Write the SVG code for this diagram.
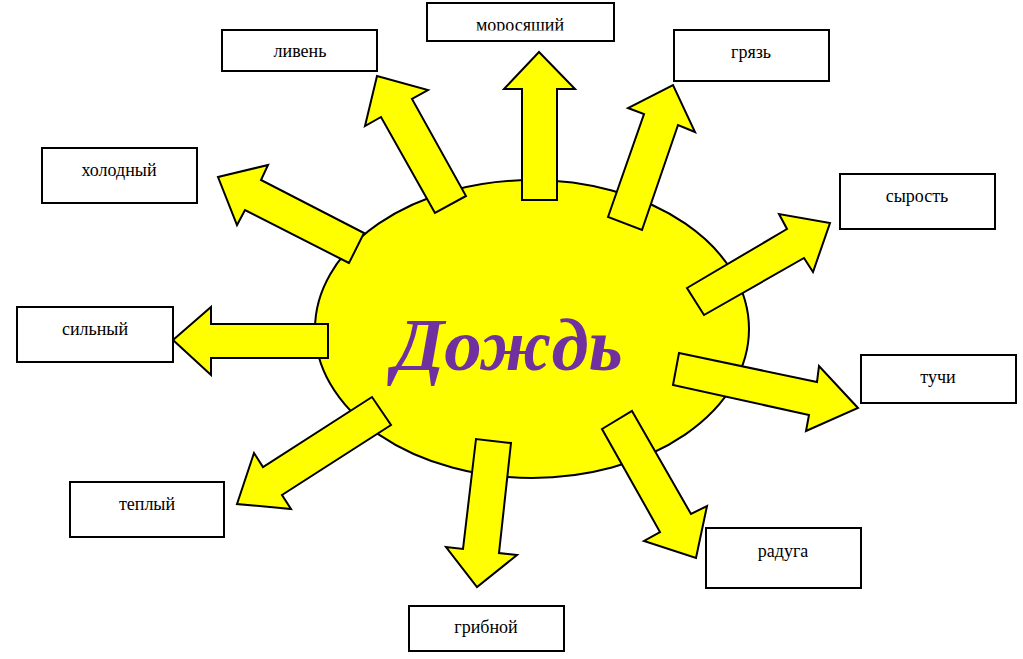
<svg xmlns="http://www.w3.org/2000/svg" width="1023" height="659" viewBox="0 0 1023 659">
<style>
.box{fill:#fff;stroke:#000;stroke-width:2}
.lbl{font-family:"Liberation Serif","DejaVu Serif",serif;font-size:18px;fill:#000;text-anchor:middle}
.arr{fill:#ffff00;stroke:#000;stroke-width:2;stroke-linejoin:miter}
</style>
<defs>
<clipPath id="clipTop"><rect x="427" y="0" width="188" height="30.5"/></clipPath>
</defs>
<rect width="1023" height="659" fill="#fff"/>
<g id="center">
<ellipse cx="532" cy="329" rx="217" ry="149" fill="#ffff00" stroke="#000" stroke-width="2"/>
</g>
<g id="connectors">
<polygon class="arr" points="522,200 522,89 504,89 539,52 575,89 557,89 557,200"/>
<polygon class="arr" points="435,213 381,117 365,126 377,76 428,90 412,99 466,196"/>
<polygon class="arr" points="349,263 245,210 237,225 218,177 268,165 261,180 364,233"/>
<polygon class="arr" points="328,358 211,358 211,375 173,340 211,307 211,324 328,324"/>
<polygon class="arr" points="372,397 263,467 254,453 237,504 291,509 282,495 391,425"/>
<polygon class="arr" points="476,439 463,549 446,547 477,587 517,555 499,553 511,443"/>
<polygon class="arr" points="632,411 691,514 707,506 696,558 644,541 660,532 602,429"/>
<polygon class="arr" points="679,353 817,382 819,366 858,408 806,431 809,415 673,385"/>
<polygon class="arr" points="687,288 787,229 779,214 830,223 813,272 804,258 704,315"/>
<polygon class="arr" points="608,217 644,114 628,108 673,85 695,132 678,125 642,230"/>
</g>
<g id="title">
<text x="508" y="370" font-family="Liberation Serif,'DejaVu Serif',serif" font-size="75" font-weight="bold" font-style="italic" fill="#7030a0" text-anchor="middle">Дождь</text>
</g>
<g id="n-moros"><rect class="box" x="427" y="3" width="187" height="38"/><text class="lbl" x="520" y="31" clip-path="url(#clipTop)">моросящий</text></g>
<g id="n-liven"><rect class="box" x="222" y="30" width="155" height="41"/><text class="lbl" x="300" y="57">ливень</text></g>
<g id="n-gryaz"><rect class="box" x="674" y="30" width="155" height="51"/><text class="lbl" x="751" y="58">грязь</text></g>
<g id="n-syrost"><rect class="box" x="840" y="174" width="155" height="55"/><text class="lbl" x="917" y="202">сырость</text></g>
<g id="n-holod"><rect class="box" x="42" y="148" width="155" height="55"/><text class="lbl" x="119" y="176">холодный</text></g>
<g id="n-silny"><rect class="box" x="17" y="307" width="156" height="55"/><text class="lbl" x="95" y="335">сильный</text></g>
<g id="n-teply"><rect class="box" x="70" y="482" width="154" height="55"/><text class="lbl" x="147" y="510">теплый</text></g>
<g id="n-grib"><rect class="box" x="409" y="606" width="155" height="45"/><text class="lbl" x="486" y="633">грибной</text></g>
<g id="n-tuchi"><rect class="box" x="861" y="355" width="155" height="48"/><text class="lbl" x="938" y="383">тучи</text></g>
<g id="n-raduga"><rect class="box" x="706" y="528" width="155" height="60"/><text class="lbl" x="783" y="557">радуга</text></g>
</svg>
